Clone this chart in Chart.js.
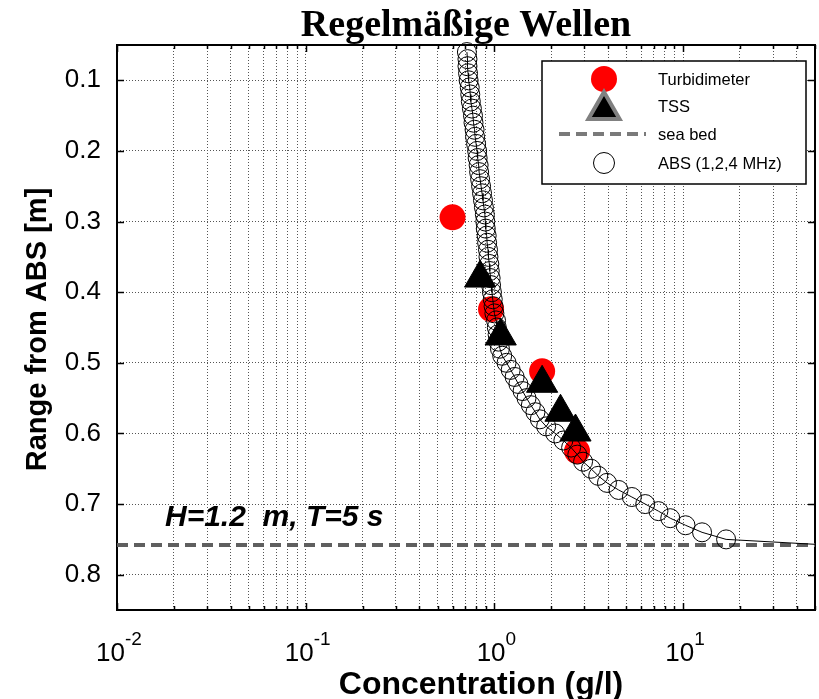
<!DOCTYPE html>
<html><head><meta charset="utf-8">
<script src="https://cdn.jsdelivr.net/npm/chart.js@4/dist/chart.umd.min.js"></script>
<style>html,body{margin:0;padding:0;background:#fff;}canvas{display:block;}</style>
</head><body>
<canvas id="c" width="819" height="699"></canvas>
<script>
// ---- data ----
const turbConc  = [0.60, 0.96, 1.79, 2.74];
const turbRange = [0.294, 0.424, 0.512, 0.625];
const tssConc   = [0.84, 1.08, 1.79, 2.24, 2.69];
const tssRange  = [0.380, 0.462, 0.529, 0.570, 0.598];
const absConc = [0.715,0.72,0.72,0.725,0.73,0.74,0.745,0.75,0.76,0.77,
  0.775,0.785,0.79,0.80,0.81,0.815,0.825,0.83,0.84,0.85,
  0.86,0.87,0.88,0.89,0.895,0.90,0.91,0.915,0.925,0.93,
  0.94,0.945,0.955,0.96,0.97,0.98,0.99,1.00,1.02,1.03,
  1.04,1.05,1.07,1.10,1.16,1.22,1.28,1.34,1.41,1.48,
  1.56,1.65,1.74,1.88,2.10,2.32,2.55,2.75,2.95,3.25,
  3.55,3.95,4.55,5.35,6.30,7.40,8.55,10.3,12.6,16.9];
const absRange = [0.06,0.07,0.08,0.09,0.10,0.11,0.12,0.13,0.14,0.15,
  0.16,0.17,0.18,0.19,0.20,0.21,0.22,0.23,0.24,0.25,
  0.26,0.27,0.28,0.29,0.30,0.31,0.32,0.33,0.34,0.35,
  0.36,0.37,0.38,0.39,0.40,0.41,0.42,0.43,0.44,0.45,
  0.46,0.47,0.48,0.49,0.50,0.51,0.52,0.53,0.54,0.55,
  0.56,0.57,0.58,0.59,0.60,0.61,0.62,0.63,0.64,0.65,
  0.66,0.67,0.68,0.69,0.70,0.71,0.72,0.73,0.74,0.75];
const absLineEndConc = 50, absLineEndRange = 0.757;
const seaBedConc = [0.01, 50];
const seaBedRange = [0.758, 0.758];
const xDecades = [0.01, 0.1, 1, 10];
const xDecadeExps = ['-2', '-1', '0', '1'];
const xMinorMultipliers = [1,2,3,4,5,6,7,8,9];
const yTicks = [0.1,0.2,0.3,0.4,0.5,0.6,0.7,0.8];
const xMin = 0.01, xMax = 50, yMin = 0.05, yMax = 0.85;
const titleText = 'Regelmäßige Wellen';
const xTitle = 'Concentration (g/l)';
const yTitle = 'Range from ABS [m]';
const noteText = 'H=1.2  m, T=5 s';
const legendLabels = ['Turbidimeter', 'TSS', 'sea bed', 'ABS (1,2,4 MHz)'];

const xGridValues = [];
xDecades.forEach(d => xMinorMultipliers.forEach(m => { const v = d*m; if (v <= xMax + 1e-9) xGridValues.push(v); }));

const pts = (xs, ys) => xs.map((v,i) => ({x:v, y:ys[i]}));
const absLinePts = pts(absConc, absRange).concat([{x:absLineEndConc, y:absLineEndRange}]);

const SANS = '"Liberation Sans", Arial, sans-serif';
const SEABED_COLOR = '#5f5f5f';
const GRID_COLOR = '#555';

function triPath(ctx, x, y, r){
  ctx.beginPath();
  ctx.moveTo(x, y - r);
  ctx.lineTo(x + r*Math.sin(2*Math.PI/3), y - r*Math.cos(2*Math.PI/3));
  ctx.lineTo(x + r*Math.sin(4*Math.PI/3), y - r*Math.cos(4*Math.PI/3));
  ctx.closePath();
}

const decor = {
  id: 'decor',
  beforeDatasetsDraw(chart){
    const {ctx, chartArea:a, scales:{x, y}} = chart;
    ctx.save();
    ctx.strokeStyle = '#000'; ctx.lineWidth = 1.5;
    x.ticks.forEach(t => {
      const px = Math.round(x.getPixelForValue(t.value)) + 0.5;
      const L = xDecades.some(d => Math.abs(d - t.value) < 1e-12) ? 7 : 4;
      ctx.beginPath(); ctx.moveTo(px, a.bottom); ctx.lineTo(px, a.bottom - L);
      ctx.moveTo(px, a.top); ctx.lineTo(px, a.top + L); ctx.stroke();
    });
    y.ticks.forEach(t => {
      const py = Math.round(y.getPixelForValue(t.value)) + 0.5;
      ctx.beginPath(); ctx.moveTo(a.left, py); ctx.lineTo(a.left + 7, py);
      ctx.moveTo(a.right, py); ctx.lineTo(a.right - 7, py); ctx.stroke();
    });
    ctx.lineWidth = 2;
    ctx.strokeRect(a.left, a.top, a.right - a.left, a.bottom - a.top);
    ctx.restore();
  },
  afterDraw(chart){
    const {ctx, chartArea:a, scales:{x, y}} = chart;
    ctx.save();
    ctx.fillStyle = '#000';
    ctx.font = 'bold 38px "Liberation Serif", "Times New Roman", serif';
    ctx.textAlign = 'center'; ctx.textBaseline = 'alphabetic';
    ctx.fillText(titleText, (a.left + a.right)/2, 36);
    xDecades.forEach((d, i) => {
      const px = x.getPixelForValue(d);
      ctx.font = '26px ' + SANS;
      const w1 = ctx.measureText('10').width;
      ctx.font = '19px ' + SANS;
      const w2 = ctx.measureText(xDecadeExps[i]).width;
      const left = px - (w1 + w2)/2 + 2;
      ctx.textAlign = 'left';
      ctx.font = '26px ' + SANS;
      ctx.fillText('10', left, 661);
      ctx.font = '19px ' + SANS;
      ctx.fillText(xDecadeExps[i], left + w1, 645);
    });
    ctx.font = 'bold 32px ' + SANS;
    ctx.textAlign = 'center';
    ctx.fillText(xTitle, 481, 694);
    ctx.save();
    ctx.translate(46, (a.top + a.bottom)/2 + 2);
    ctx.rotate(-Math.PI/2);
    ctx.font = 'bold 29px ' + SANS;
    ctx.fillText(yTitle, 0, 0);
    ctx.restore();
    ctx.font = 'italic bold 30px ' + SANS;
    ctx.textAlign = 'left';
    ctx.fillText(noteText, 165, 526);
    // legend
    const lx = 542, ly = 61, lw = 264, lh = 123;
    ctx.fillStyle = '#fff';
    ctx.fillRect(lx, ly, lw, lh);
    ctx.strokeStyle = '#000'; ctx.lineWidth = 1.5;
    ctx.strokeRect(lx, ly, lw, lh);
    const mx = 604, rows = [79, 106, 134, 163], tx = 658;
    ctx.fillStyle = '#ff0000';
    ctx.beginPath(); ctx.arc(mx, rows[0], 13, 0, 2*Math.PI); ctx.fill();
    triPath(ctx, mx, rows[1] + 4, 18);
    ctx.fillStyle = '#000'; ctx.fill();
    ctx.strokeStyle = '#808080'; ctx.lineWidth = 4; ctx.lineJoin = 'miter'; ctx.stroke();
    ctx.strokeStyle = '#7a7a7a'; ctx.lineWidth = 4; ctx.setLineDash([11, 6]);
    ctx.beginPath(); ctx.moveTo(559, rows[2]); ctx.lineTo(646, rows[2]); ctx.stroke();
    ctx.setLineDash([]);
    ctx.strokeStyle = '#000'; ctx.lineWidth = 1;
    ctx.beginPath(); ctx.arc(mx, rows[3], 10.5, 0, 2*Math.PI); ctx.stroke();
    ctx.fillStyle = '#000';
    ctx.font = '16.5px ' + SANS;
    ctx.textBaseline = 'middle';
    legendLabels.forEach((t, i) => ctx.fillText(t, tx, rows[i] + 1));
    ctx.restore();
  }
};

new Chart(document.getElementById('c'), {
  type: 'scatter',
  data: {
    datasets: [
      { label: 'sea bed', data: pts(seaBedConc, seaBedRange), showLine: true, pointRadius: 0,
        borderColor: SEABED_COLOR, borderWidth: 4, borderDash: [11, 6], order: 5 },
      { label: 'Turbidimeter', data: pts(turbConc, turbRange), pointStyle: 'circle', pointRadius: 13,
        backgroundColor: '#ff0000', borderColor: '#ff0000', borderWidth: 0, order: 4, clip: false },
      { label: 'ABS line', data: absLinePts, showLine: true, pointRadius: 0, borderColor: '#000',
        borderWidth: 1, tension: 0, order: 3 },
      { label: 'ABS (1,2,4 MHz)', data: pts(absConc, absRange), pointStyle: 'circle', pointRadius: 9.5,
        backgroundColor: 'rgba(0,0,0,0)', borderColor: '#000', borderWidth: 1, order: 2, clip: false },
      { label: 'TSS', data: pts(tssConc, tssRange), pointStyle: 'triangle', pointRadius: 18,
        backgroundColor: '#000', borderColor: '#000', borderWidth: 1, order: 1, clip: false }
    ]
  },
  options: {
    responsive: false, animation: false, devicePixelRatio: 1,
    layout: { autoPadding: false, padding: { top: 45, right: 4, left: 0, bottom: 0 } },
    plugins: { legend: { display: false }, title: { display: false }, tooltip: { enabled: false } },
    scales: {
      x: {
        type: 'logarithmic', min: xMin, max: xMax,
        afterBuildTicks: s => { s.ticks = xGridValues.map(v => ({ value: v })); },
        afterFit: s => { s.height = 89; },
        ticks: { display: false, autoSkip: false },
        grid: { color: GRID_COLOR, lineWidth: 1, drawTicks: false },
        border: { display: false, dash: [1, 2] }
      },
      y: {
        type: 'linear', reverse: true, min: yMin, max: yMax,
        afterBuildTicks: s => { s.ticks = yTicks.map(v => ({ value: v })); },
        afterFit: s => { s.width = 117; },
        ticks: { autoSkip: false, padding: 16, color: '#000', font: { family: SANS, size: 26 },
                 callback: v => Number(v).toFixed(1) },
        grid: { color: GRID_COLOR, lineWidth: 1, drawTicks: false },
        border: { display: false, dash: [1, 2] }
      }
    }
  },
  plugins: [decor]
});
</script>
</body></html>
